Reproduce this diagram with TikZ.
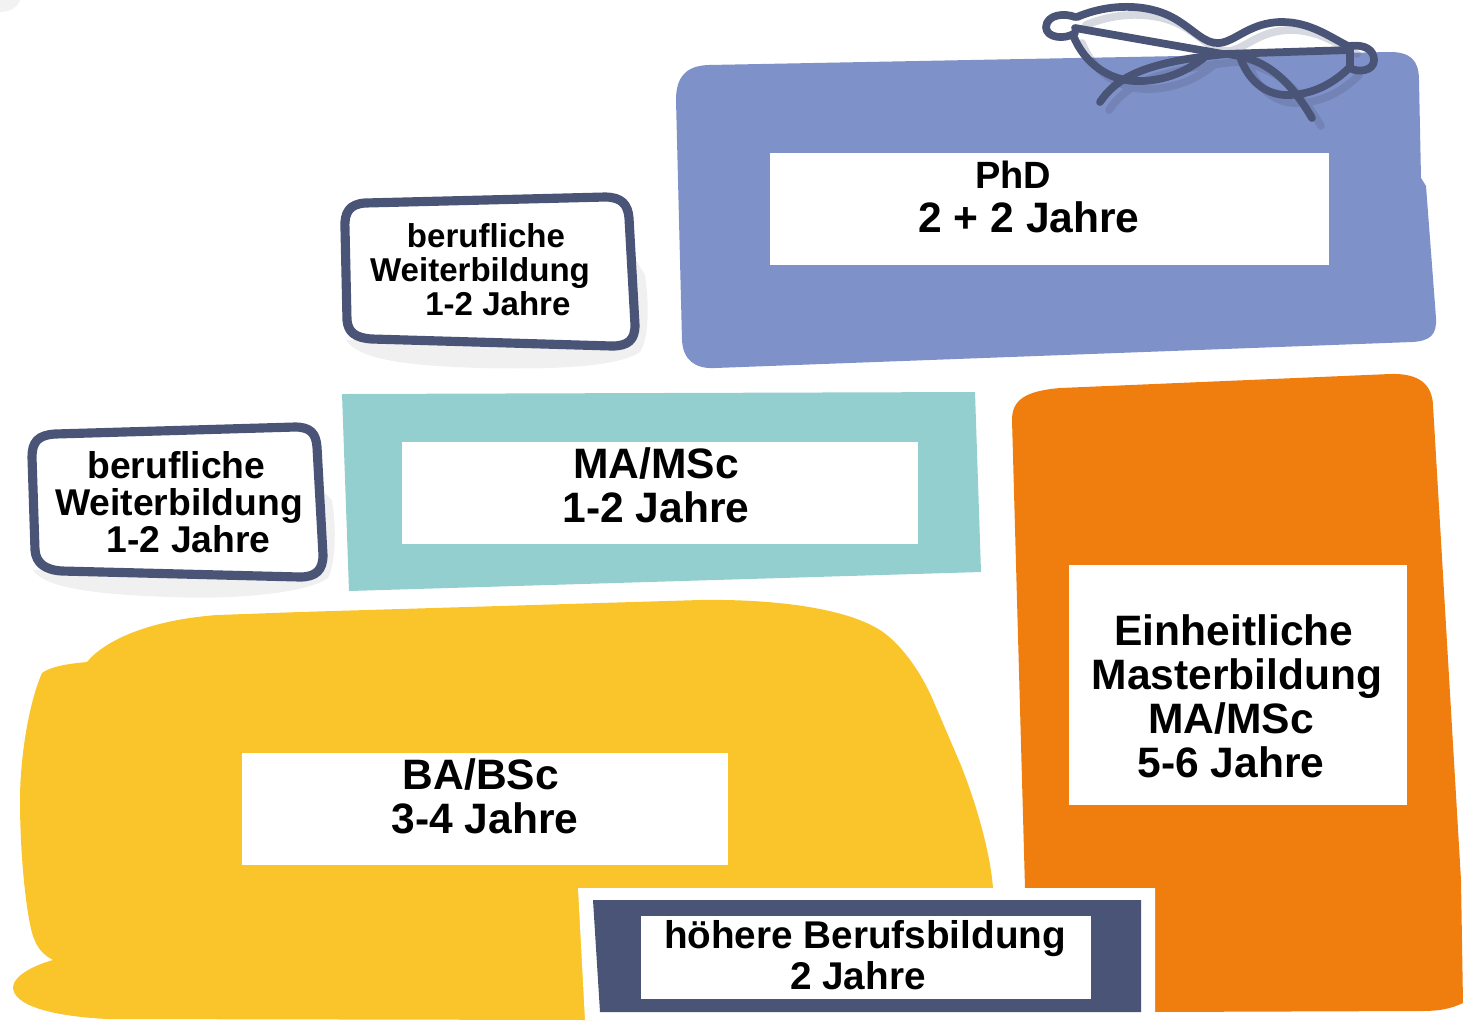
\documentclass[tikz,border=0pt]{standalone}
\usepackage{fontspec}
\setmainfont{Liberation Sans}
\usepackage{xcolor}
\usetikzlibrary{positioning}

\definecolor{phdblue}{HTML}{7F91C9}
\definecolor{material}{HTML}{93CFCE}
\definecolor{bayellow}{HTML}{F9C52B}
\definecolor{maorange}{HTML}{F07E0F}
\definecolor{navy}{HTML}{4A5477}

\tikzset{
    whitebox/.style={fill=white},
    label/.style={align=center, text=black, inner sep=0pt},
    biglabel/.style={label, font=\bfseries\fontsize{12.1}{12.5}\selectfont},
    midlabel/.style={label, font=\bfseries\fontsize{10.6}{10.6}\selectfont},
    widelabel/.style={label, font=\bfseries\fontsize{11}{11.6}\selectfont},
    smalllabel/.style={label, font=\bfseries\fontsize{9.4}{9.7}\selectfont},
    frameline/.style={draw=navy, line width=2.6pt, line join=round},
    glassline/.style={draw=navy, line width=2.2pt, line cap=round, line join=round},
    softshadow/.style={fill=black!6}
}

\newcommand{\glassesrims}{
    (1077,17) .. controls (1110,3) and (1150,3) .. (1177,20) .. controls (1195,31) and (1205,44) .. (1219,43)
    .. controls (1235,42) and (1250,22) .. (1282,22) .. controls (1310,22) and (1330,37) .. (1348,46)
    (1073,35) .. controls (1085,65) and (1110,80) .. (1135,81) .. controls (1165,82) and (1190,70) .. (1207,55)
    (1240,57) .. controls (1250,85) and (1270,96) .. (1290,95) .. controls (1315,94) and (1335,82) .. (1350,67)
    (1100,102) .. controls (1115,80) and (1140,62) .. (1227,54)
    .. controls (1260,58) and (1285,72) .. (1312,118)
}

\begin{document}
\begin{tikzpicture}[x=0.01cm, y=-0.01cm]
    \useasboundingbox (0,0) rectangle (1463,1020);

    % Smudge in the corner
    \fill[black!5] (0,0) -- (20,0) .. controls (18,8) and (8,12) .. (0,12) -- cycle;

    % PhD block
    \fill[phdblue] (676,100) .. controls (676,78) and (685,66) .. (708,65) -- (1390,52)
        .. controls (1410,52) and (1419,60) .. (1419,80) -- (1421,178) -- (1426,186) -- (1436,318)
        .. controls (1437,335) and (1430,341) .. (1412,342) -- (715,368)
        .. controls (695,369) and (683,360) .. (682,340) -- cycle;

    % Glasses, shadow first
    \draw[glassline, draw opacity=0.22, xshift=0.09cm, yshift=-0.08cm] \glassesrims;
    \draw[glassline] \glassesrims;
    \draw[glassline] (1075,28) -- (1223,54) -- (1350,50);
    \draw[glassline] (1075,17) .. controls (1065,13) and (1047,14) .. (1046,27)
        .. controls (1046,38) and (1065,40) .. (1075,33);
    \draw[glassline] (1350,46) .. controls (1365,44) and (1374,50) .. (1374,60)
        .. controls (1374,71) and (1358,73) .. (1350,68) -- cycle;

    % Frame above the MA block
    \fill[softshadow] (346,340) -- (625,345) -- (636,260) -- (645,275) .. controls (650,310) and (648,340) .. (640,352)
        .. controls (620,366) and (560,370) .. (480,368) .. controls (420,366) and (360,362) .. (346,340) -- cycle;
    \draw[frameline, fill=white] (345,228) .. controls (344,212) and (350,204) .. (365,203) -- (605,197)
        .. controls (622,197) and (628,205) .. (629,218) -- (635,325)
        .. controls (635,340) and (628,346) .. (612,346) -- (372,339)
        .. controls (355,338) and (348,332) .. (347,320) -- cycle;

    % Frame left of the MA block
    \fill[softshadow] (33,570) -- (315,578) -- (322,490) -- (332,500) .. controls (337,530) and (335,565) .. (328,578)
        .. controls (310,592) and (240,600) .. (170,597) .. controls (110,595) and (45,590) .. (33,570) -- cycle;
    \draw[frameline, fill=white] (32,457) .. controls (32,442) and (38,435) .. (55,434) -- (295,427)
        .. controls (310,427) and (316,433) .. (317,447) -- (323,555)
        .. controls (323,570) and (316,577) .. (300,577) -- (62,571)
        .. controls (45,570) and (36,563) .. (35,550) -- cycle;

    % MA block
    \fill[material] (342,394) -- (975,392) -- (981,572) -- (349,591) -- cycle;

    % Orange block
    \fill[maorange] (1012,420) .. controls (1012,400) and (1025,391) .. (1060,388) -- (1390,374)
        .. controls (1420,373) and (1432,385) .. (1433,405) -- (1461,880) -- (1463,1003)
        .. controls (1450,1009) and (1440,1011) .. (1420,1011) -- (1150,1012) -- (1150,888) -- (1025,888) -- cycle;

    % Yellow block
    \fill[bayellow] (87,662) .. controls (105,640) and (150,620) .. (217,615) -- (300,612) -- (700,600)
        .. controls (760,599) and (840,605) .. (880,630) .. controls (900,643) and (920,670) .. (933,700)
        -- (960,763) .. controls (975,800) and (990,850) .. (993,888) -- (585,888) -- (592,1020) -- (107,1019)
        .. controls (50,1016) and (13,1005) .. (13,987) .. controls (14,975) and (35,965) .. (53,960)
        .. controls (40,953) and (36,945) .. (32,933) .. controls (25,905) and (20,850) .. (20,800)
        .. controls (20,760) and (28,705) .. (42,673) .. controls (50,667) and (65,664) .. (87,662) -- cycle;

    % Vocational block with its white margin
    \fill[white] (578,888) -- (1155,888) -- (1155,1020) -- (585,1020) -- cycle;
    \fill[navy] (593,900) -- (1141,900) -- (1141,1012) -- (600,1012) -- cycle;

    % White boxes
    \fill[whitebox] (770,153) rectangle (1329,265);
    \fill[whitebox] (402,442) rectangle (918,544);
    \fill[whitebox] (242,753) rectangle (728,865);
    \fill[whitebox] (1069,565) rectangle (1407,805);
    \fill[whitebox] (641,916) rectangle (1091,999);

    % Labels
    \node[biglabel] (phd) at (1029,197) {\hspace*{-9pt}{\fontsize{10.8}{12.5}\selectfont PhD}\\2 + 2 Jahre};
    \node[biglabel] (ma) at (656,485) {MA/MSc\\1-2 Jahre};
    \node[biglabel] (ba) at (485,796) {\hspace*{-2.3pt}BA/BSc\\3-4 Jahre};
    \node[biglabel] (unified) at (1237,696) {\hspace*{-1.7pt}Einheitliche\\Masterbildung\\\hspace*{-3.4pt}MA/MSc\\\hspace*{-3.4pt}5-6 Jahre};
    \node[widelabel] (higher) at (865,955) {höhere Berufsbildung\\\hspace*{-4pt}2 Jahre};
    \node[smalllabel] (upper) at (480,270) {\hspace*{3.4pt}berufliche\\Weiterbildung\\\hspace*{10.2pt}1-2 Jahre};
    \node[midlabel] (lower) at (179,502) {\hspace*{-1.5pt}berufliche\\Weiterbildung\\\hspace*{5.5pt}1-2 Jahre};
\end{tikzpicture}
\end{document}
